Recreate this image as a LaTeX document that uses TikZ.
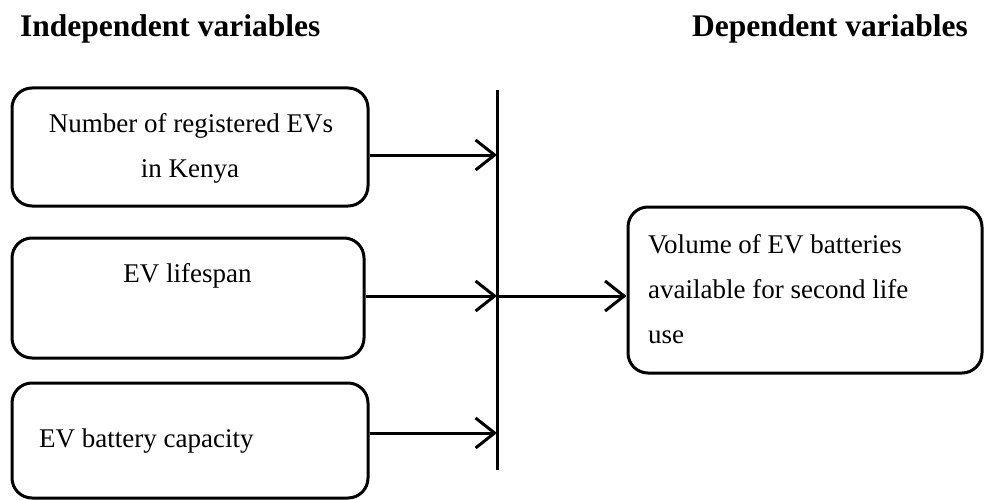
\documentclass[tikz,border=0pt]{standalone}
\usepackage{fontspec}
\setmainfont{Liberation Serif}
\usetikzlibrary{arrows.meta}

\tikzset{
  varbox/.style={draw, line width=3pt, rounded corners=20pt, rectangle, inner sep=0pt},
  boxtext/.style={inner sep=0pt, font=\fontsize{27}{45}\selectfont},
  heading/.style={inner sep=0pt, font=\fontsize{31.5}{36}\selectfont\bfseries},
  link/.style={line width=3pt, -{Straight Barb[length=19pt,width=30pt]}},
  bus/.style={line width=3pt}
}

\begin{document}
\begin{tikzpicture}[x=1pt,y=-1pt]
\useasboundingbox (0,0) rectangle (984,500);

% column headings
\node[heading, anchor=base west] (hind) at (20,37) {Independent variables};
\node[heading, anchor=base east] (hdep) at (968,37) {Dependent variables};

% independent variable boxes
\node[varbox, minimum width=356pt, minimum height=118pt] (b1) at (190,147) {};
\node[varbox, minimum width=352pt, minimum height=120pt] (b2) at (188,298) {};
\node[varbox, minimum width=356pt, minimum height=115pt] (b3) at (190,440.5) {};

\node[boxtext, anchor=base] (t1a) at (191,132) {Number of registered EVs};
\node[boxtext, anchor=base] (t1b) at (190,177) {in Kenya};
\node[boxtext, anchor=base] (t2) at (187.5,282) {EV lifespan};
\node[boxtext, anchor=base west] (t3) at (39,447) {EV battery capacity};

% dependent variable box
\node[varbox, minimum width=354pt, minimum height=166pt] (dv) at (805,290) {};
\node[boxtext, anchor=base west] (d1) at (648,253) {Volume of EV batteries};
\node[boxtext, anchor=base west] (d2) at (648,298) {available for second life};
\node[boxtext, anchor=base west] (d3) at (648,343) {use};

% collecting bar
\coordinate (bartop) at (497,90);
\coordinate (barbot) at (497,470);
\coordinate (j1) at (497,155);
\coordinate (j2) at (497,296);
\coordinate (j3) at (497,433);
\draw[bus] (bartop) -- (barbot);

% connectors
\draw[link] (b1.east |- j1) -- (j1);
\draw[link] (b2.east |- j2) -- (j2);
\draw[link] (b3.east |- j3) -- (j3);
\draw[link] (j2) -- (dv.west |- j2);
\end{tikzpicture}
\end{document}
